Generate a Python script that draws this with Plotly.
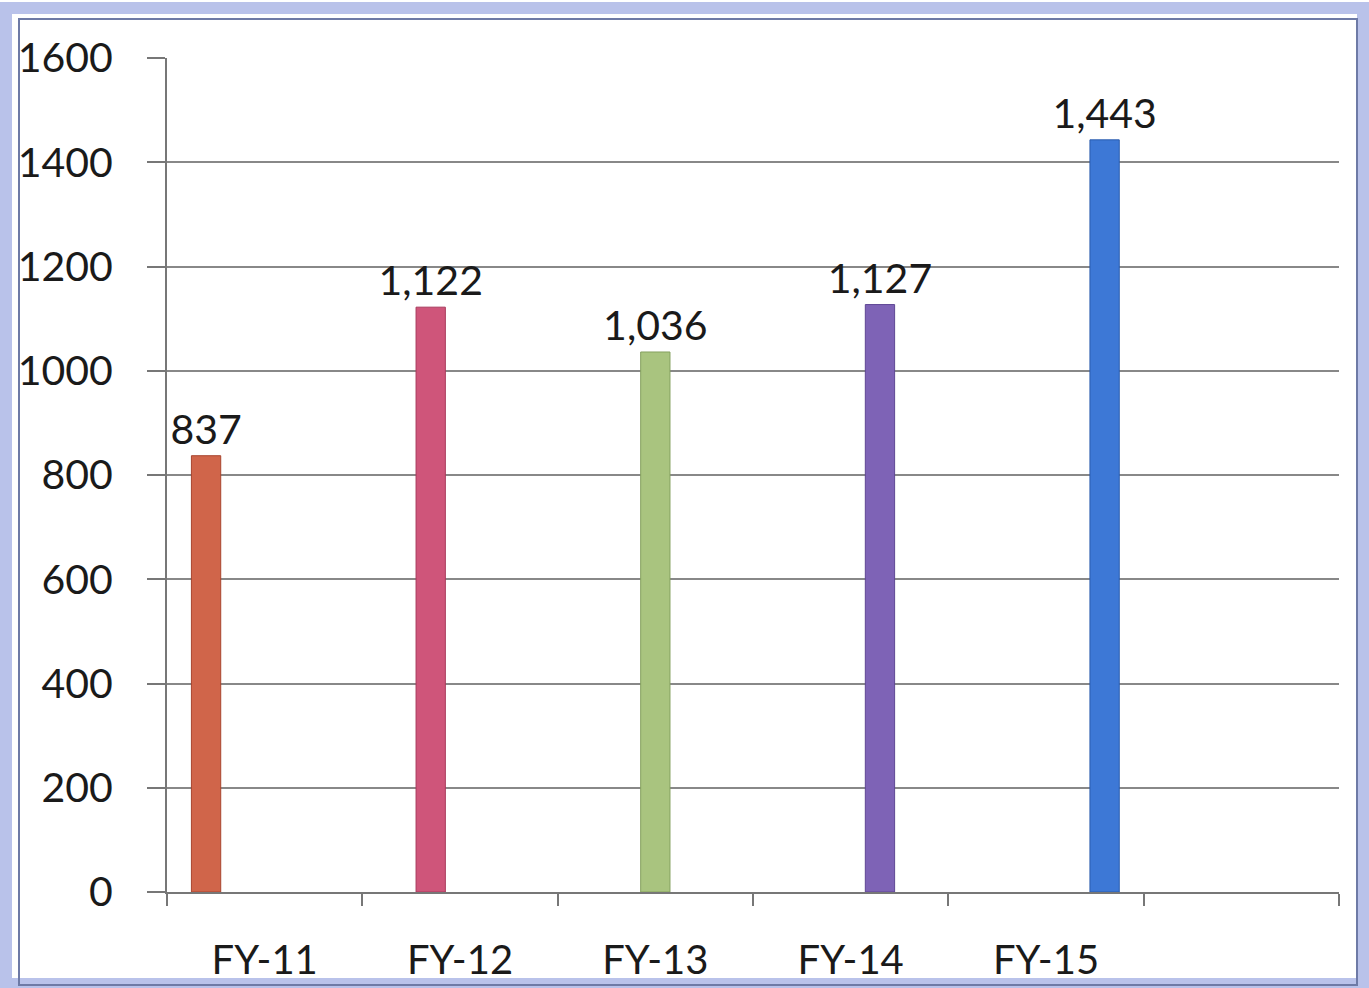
import plotly.graph_objects as go

categories = ["FY-11", "FY-12", "FY-13", "FY-14", "FY-15"]
values = [837, 1122, 1036, 1127, 1443]
colors = ["#d0654a", "#cf557a", "#a9c47f", "#7e63b6", "#3d78d6"]
edge_colors = ["#a8452e", "#a83a5c", "#85a05f", "#5f4794", "#2a5cae"]
y_ticks = [0, 200, 400, 600, 800, 1000, 1200, 1400, 1600]
all_slots = categories + [" "]

W, H = 1369, 988
L, R, T, B = 167, 30, 58, 96

fig = go.Figure()
for i, (cat, val, col, ecol) in enumerate(zip(categories, values, colors, edge_colors)):
    fig.add_trace(go.Bar(
        x=[cat], y=[val], name=cat,
        offsetgroup=str(i), alignmentgroup="a",
        marker=dict(color=col, line=dict(color=ecol, width=1)),
        text=[f"{val:,}"], textposition="outside", constraintext="none",
        textfont=dict(family="Lato", size=41, color="#1a1a1a"),
        cliponaxis=False,
    ))

pw, ph = W - L - R, H - T - B
def px(x):
    return (x - L) / pw
def py(y):
    return (H - B - y) / ph

shapes = [
    dict(type="rect", xref="paper", yref="paper",
         x0=px(6), x1=px(W - 6), y0=py(H - 4), y1=py(8),
         line=dict(color="#b9c2ea", width=12), fillcolor="rgba(0,0,0,0)", layer="below"),
    dict(type="rect", xref="paper", yref="paper",
         x0=px(19), x1=px(W - 12), y0=py(H - 3), y1=py(19),
         line=dict(color="#6e7aa6", width=2), fillcolor="rgba(0,0,0,0)", layer="below"),
]

fig.update_layout(
    width=W, height=H,
    margin=dict(l=L, r=R, t=T, b=B, autoexpand=False),
    paper_bgcolor="white", plot_bgcolor="white",
    barmode="group", bargap=0.25, bargroupgap=0,
    showlegend=False,
    shapes=shapes,
    font=dict(family="Lato", color="#1a1a1a"),
    xaxis=dict(
        type="category", categoryorder="array", categoryarray=all_slots,
        range=[-0.5, 5.5], tickson="boundaries", automargin=False,
        ticks="outside", ticklen=12, tickwidth=2, tickcolor="#777777",
        showline=True, linecolor="#777777", linewidth=2,
        showgrid=False, tickfont=dict(family="Lato", size=40, color="#1a1a1a"),
        ticklabelstandoff=32,
    ),
    yaxis=dict(
        range=[0, 1600], tickvals=y_ticks, automargin=False,
        ticks="outside", ticklen=18, tickwidth=2, tickcolor="#777777",
        showline=True, linecolor="#777777", linewidth=2,
        showgrid=True, gridcolor="#888888", gridwidth=2,
        zeroline=False,
        tickfont=dict(family="Lato", size=41, color="#1a1a1a"),
        ticklabelstandoff=26,
    ),
)

fig.write_html("out.html")
